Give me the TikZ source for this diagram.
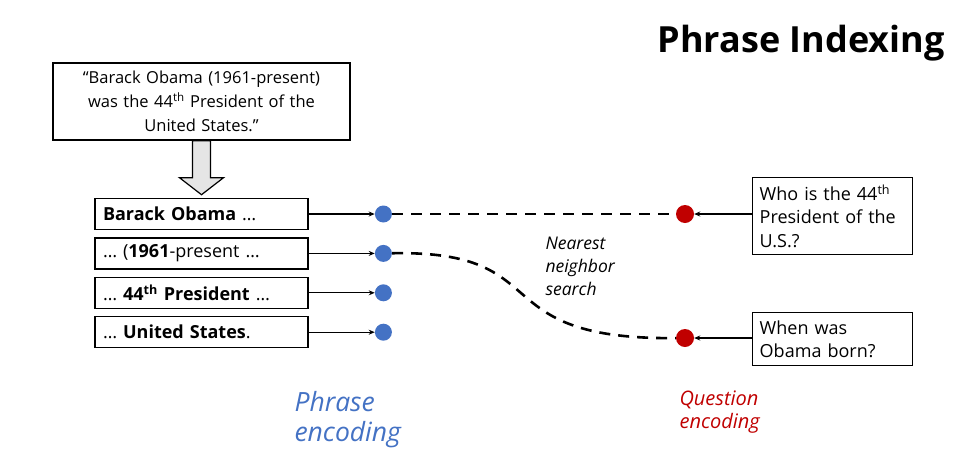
\documentclass[tikz,border=0pt]{standalone}
\usepackage{fontspec}
\setmainfont{Open Sans}
\usetikzlibrary{
    arrows.meta,
    positioning,
    calc
}
\definecolor{phraseblue}{RGB}{68,114,196}
\definecolor{questred}{RGB}{192,0,0}
\tikzstyle{passage} = [
    rectangle,
    draw=black,
    line width=1.4pt,
    text width=290pt,
    minimum height=77pt,
    align=center,
    font=\fontsize{16.5}{24}\selectfont
]
\tikzstyle{phrasebox} = [
    rectangle,
    draw=black,
    line width=1.4pt,
    text width=197pt,
    inner xsep=8pt,
    minimum height=31pt,
    align=left,
    font=\fontsize{18}{20}\selectfont
]
\tikzstyle{question} = [
    rectangle,
    draw=black,
    line width=1.4pt,
    text width=146pt,
    inner xsep=7pt,
    align=left,
    font=\fontsize{18}{23}\selectfont
]
\tikzstyle{pdot} = [circle, fill=phraseblue, inner sep=0pt, minimum size=17pt]
\tikzstyle{qdot} = [circle, fill=questred, inner sep=0pt, minimum size=18pt]
\tikzstyle{arrow} = [
    -{Stealth[length=6pt,width=5pt]},
    line width=1.2pt
]
\tikzstyle{search} = [
    line width=2.6pt,
    dash pattern=on 11pt off 8pt
]

\begin{document}
\begin{tikzpicture}[x=1pt, y=-1pt]
    \useasboundingbox (0,0) rectangle (965,461);
    \node[anchor=north east, font=\fontsize{36}{40}\selectfont\bfseries] (title) at (948,22) {Phrase Indexing};
    % passage and its phrases
    \node[passage] (passage) at (201.5,101.5) {``Barack Obama (1961-present)\\was the 44\textsuperscript{th} President of the\\United States.''};
    \node[phrasebox] (ph1) at (201.5,214) {\textbf{Barack Obama} \ldots};
    \node[phrasebox, below=7pt of ph1] (ph2) {\ldots{} (\textbf{1961}-present \ldots};
    \node[phrasebox, below=7pt of ph2] (ph3) {\ldots{} \textbf{44\textsuperscript{th} President} \ldots};
    \node[phrasebox, below=7pt of ph3] (ph4) {\ldots{} \textbf{United States}.};
    \draw[line width=1.2pt, fill=gray!20]
        ($(passage.south)+(-9,0)$) -- ($(passage.south)+(-9,37)$) -- ($(passage.south)+(-22,37)$)
        -- ($(passage.south)+(0,54)$) -- ($(passage.south)+(22,37)$) -- ($(passage.south)+(9,37)$)
        -- ($(passage.south)+(9,0)$) -- cycle;
    % phrase vectors
    \node[pdot, right=66pt of ph1] (pdot1) {};
    \node[pdot, right=66pt of ph2] (pdot2) {};
    \node[pdot, right=66pt of ph3] (pdot3) {};
    \node[pdot, right=66pt of ph4] (pdot4) {};
    \draw[arrow] (ph1) -- (pdot1);
    \draw[arrow] (ph2) -- (pdot2);
    \draw[arrow] (ph3) -- (pdot3);
    \draw[arrow] (ph4) -- (pdot4);
    % questions
    \node[question, anchor=north west, minimum height=77pt] (q1) at (752,177) {Who is the 44\textsuperscript{th} President of the U.S.?};
    \node[question, anchor=north west, minimum height=53pt] (q2) at (752,312) {When was\\Obama born?};
    \node[qdot] (qdot1) at (685,214) {};
    \node[qdot] (qdot2) at (685,338) {};
    \draw[arrow] (q1.west |- qdot1) -- (qdot1);
    \draw[arrow] (q2.west |- qdot2) -- (qdot2);
    % nearest neighbor search
    \draw[search] (pdot1) -- (qdot1);
    \draw[search] (pdot2) .. controls (560,250) and (480,340) .. (qdot2);
    \node[anchor=north west, align=left, font=\fontsize{17.5}{23}\selectfont\itshape] (nns) at (542,233) {Nearest\\neighbor\\search};
    % labels
    \node[anchor=north west, align=left, text=phraseblue, font=\fontsize{26.5}{30}\selectfont\itshape] (penc) at (291,388) {Phrase\\encoding};
    \node[anchor=north west, align=left, text=questred, font=\fontsize{20}{23}\selectfont\itshape] (qenc) at (676,387) {Question\\encoding};
\end{tikzpicture}
\end{document}
